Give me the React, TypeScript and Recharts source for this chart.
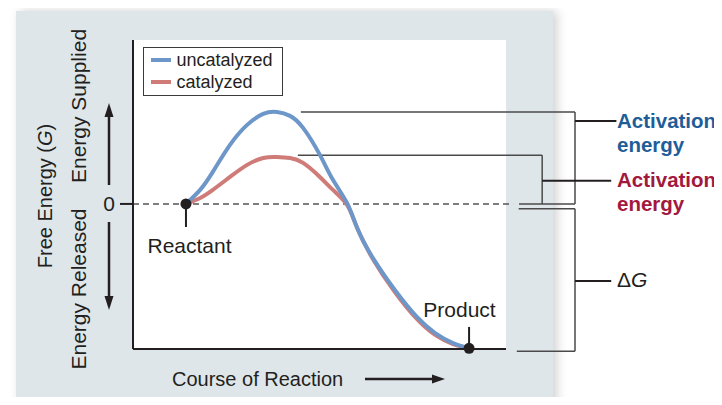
import React from "react";
import {
  ComposedChart, Line, XAxis, YAxis, CartesianGrid, ReferenceLine, ReferenceDot, Legend,
} from "recharts";

// reaction progress (0–100) and free energy relative to reactant
const progress    = [14.2, 18.0, 21.4, 26.0, 30.6, 34.9, 38.6, 42.1, 45.6, 50.1, 53.6, 57.4, 60.1, 64.3, 70.2, 76.1, 81.0, 85.8, 90.1];
const uncatalyzed = [0, 0.97, 2.21, 4.07, 5.45, 6.21, 6.34, 6.07, 5.24, 3.38, 1.66, 0.05, -1.66, -3.72, -5.93, -7.79, -8.9, -9.59, -9.95];
const catalyzed   = [0, 0.41, 0.97, 1.86, 2.69, 3.17, 3.24, 3.17, 2.83, 1.86, 0.97, -0.07, -1.66, -3.79, -6.07, -7.93, -9.03, -9.66, -9.95];
const yTicks = [0];

const data = progress.map((x, i) => ({ x, uncatalyzed: uncatalyzed[i], catalyzed: catalyzed[i] }));

const BLUE = "#6d97c8";
const RED = "#cf7b78";
const INK = "#231f20";
const BRACKET = "#4a4a4a";
const FONT = "'Liberation Sans', Arial, Helvetica, sans-serif";

const reactant = { x: progress[0], y: uncatalyzed[0] };
const product = { x: progress[progress.length - 1], y: uncatalyzed[uncatalyzed.length - 1] };
const peakU = Math.max(...uncatalyzed);
const peakC = Math.max(...catalyzed);

/* bracket x positions (data units, outside the plot) */
const BX_U = 118.5, BX_C = 109.7, BX_IN = 103.5, BX_DG_IN = 102.9, TICK_END = 129.2;

function seg(x1: number, y1: number, x2: number, y2: number, key: string, stroke = BRACKET, w = 1.5) {
  return (
    <ReferenceLine key={key} segment={[{ x: x1, y: y1 }, { x: x2, y: y2 }]}
      stroke={stroke} strokeWidth={w} ifOverflow="visible" />
  );
}

function LegendBox({ payload }: any) {
  const items = [...(payload ?? [])].reverse();
  return (
    <div style={{ width: 140, height: 49, boxSizing: "border-box", border: "1.5px solid #3a3a3a",
      background: "#fff", paddingTop: 1, paddingLeft: 6.5, fontFamily: FONT }}>
      {items.map((p: any) => (
        <div key={p.value} style={{ height: 22, display: "flex", alignItems: "center" }}>
          <span style={{ width: 20, height: 4, background: p.color, display: "inline-block", marginRight: 6 }} />
          <span style={{ fontSize: 18, color: INK, lineHeight: "22px" }}>{p.value}</span>
        </div>
      ))}
    </div>
  );
}

export default function App() {
  const lines = [
    // dashed zero level
    <ReferenceLine key="zero" segment={[{ x: 0, y: 0 }, { x: 101.9, y: 0 }]} stroke="#555"
      strokeWidth={1.5} strokeDasharray="6 4" ifOverflow="visible" />,
    // uncatalyzed activation bracket
    seg(45.0, peakU, BX_U, peakU, "u1"),
    seg(BX_U, peakU, BX_U, 0, "u2"),
    seg(BX_U, 0, BX_IN, 0, "u3"),
    seg(BX_U, 5.72, TICK_END + 0.4, 5.72, "u4", INK, 2),
    // catalyzed activation bracket
    seg(44.2, peakC + 0.12, BX_C, peakC + 0.12, "c1"),
    seg(BX_C, peakC + 0.12, BX_C, 0, "c2"),
    seg(BX_C, 1.59, TICK_END - 1, 1.59, "c4", INK, 2),
    // delta G bracket
    seg(BX_DG_IN + 0.5, -0.34, BX_U, -0.34, "g1"),
    seg(BX_U, -0.34, BX_U, product.y - 0.2, "g2"),
    seg(BX_U, product.y - 0.2, BX_DG_IN, product.y - 0.2, "g3"),
    seg(BX_U, -5.31, TICK_END - 1, -5.31, "g4", INK, 2),
    // stems to point labels
    seg(reactant.x, reactant.y, reactant.x, -1.59, "rs", INK, 2),
    seg(product.x, product.y, product.x, -8.48, "ps", INK, 2),
  ];

  return (
    <div style={{ position: "relative", width: 722, height: 405, margin: -8, background: "#fff",
      overflow: "hidden", fontFamily: FONT }}>
      <div style={{ position: "absolute", left: 16, top: 11, width: 537, height: 420, background: "#dfe6ea",
        boxShadow: "4px 0 10px rgba(0,0,0,0.18)" }} />
      <div style={{ position: "absolute", left: 0, top: 0 }}>
        <ComposedChart width={722} height={405} data={data}
          margin={{ top: 40, right: 216, bottom: 0, left: 0 }}>
          <CartesianGrid horizontal={false} vertical={false} fill="#ffffff" stroke="none" />
          <XAxis dataKey="x" type="number" domain={[0, 100]} height={56} tick={false} tickLine={false}
            axisLine={{ stroke: INK, strokeWidth: 2 }} />
          <YAxis type="number" domain={[-10, 11.3]} ticks={yTicks} width={133} tickSize={13} tickMargin={5}
            axisLine={{ stroke: INK, strokeWidth: 2 }} tickLine={{ stroke: INK, strokeWidth: 2 }}
            tick={{ fontSize: 21, fill: INK, fontFamily: FONT }} allowDataOverflow />
          {lines}
          <Line type="natural" dataKey="catalyzed" name="catalyzed" stroke={RED} strokeWidth={4}
            dot={false} activeDot={false} isAnimationActive={false} />
          <Line type="natural" dataKey="uncatalyzed" name="uncatalyzed" stroke={BLUE} strokeWidth={4}
            dot={false} activeDot={false} isAnimationActive={false} />
          <ReferenceDot x={reactant.x} y={reactant.y} r={5.5} fill={INK} stroke="none" />
          <ReferenceDot x={product.x} y={product.y} r={5.5} fill={INK} stroke="none" ifOverflow="visible" />
          <Legend layout="vertical" align="center" verticalAlign="middle" content={<LegendBox />}
            wrapperStyle={{ left: 143, top: 47, width: 140 }} />
        </ComposedChart>
      </div>
      <svg width={722} height={405} style={{ position: "absolute", left: 0, top: 0, pointerEvents: "none" }}
        fontFamily={FONT} fill={INK}>
        {/* y-axis titles and arrows */}
        <text transform="translate(52,196) rotate(-90)" textAnchor="middle" fontSize={20}>
          Free Energy (<tspan fontStyle="italic">G</tspan>)
        </text>
        <text transform="translate(86,106) rotate(-90)" textAnchor="middle" fontSize={21}>Energy Supplied</text>
        <text transform="translate(86,289) rotate(-90)" textAnchor="middle" fontSize={21}>Energy Released</text>
        <line x1={109} y1={185} x2={109} y2={112} stroke={INK} strokeWidth={2.5} />
        <polygon points="109,103 104.5,117 113.5,117" fill={INK} />
        <line x1={109} y1={222} x2={109} y2={300} stroke={INK} strokeWidth={2.5} />
        <polygon points="109,310 104.5,296 113.5,296" fill={INK} />
        {/* x-axis title */}
        <text x={172} y={386} fontSize={20}>Course of Reaction</text>
        <line x1={365} y1={379} x2={434} y2={379} stroke={INK} strokeWidth={2.5} />
        <polygon points="445,379 432,374.5 432,383.5" fill={INK} />
        {/* point labels */}
        <text x={189.5} y={253} textAnchor="middle" fontSize={21}>Reactant</text>
        <text x={459.5} y={317} textAnchor="middle" fontSize={21}>Product</text>
        {/* bracket labels */}
        <text x={617} y={128} fontSize={20.5} fontWeight="bold" fill="#1f5d99">Activation</text>
        <text x={617} y={152} fontSize={20.5} fontWeight="bold" fill="#1f5d99">energy</text>
        <text x={617} y={187} fontSize={20.5} fontWeight="bold" fill="#a3183d">Activation</text>
        <text x={617} y={211} fontSize={20.5} fontWeight="bold" fill="#a3183d">energy</text>
        <text x={617} y={287} fontSize={21}>Δ<tspan fontStyle="italic">G</tspan></text>
      </svg>
    </div>
  );
}
